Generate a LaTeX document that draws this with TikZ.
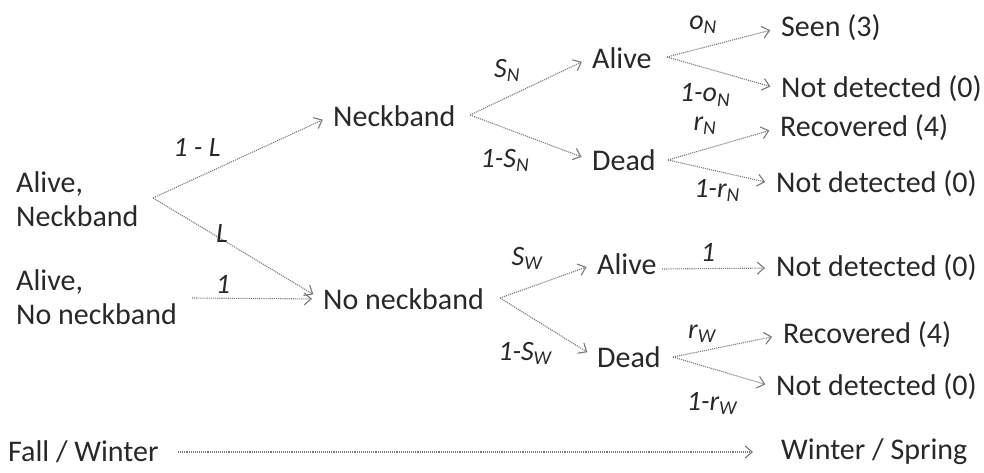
\documentclass[tikz,border=0pt]{standalone}
\usepackage{fontspec}
\setmainfont{Carlito}
\usetikzlibrary{arrows.meta, positioning}
\definecolor{TreeText}{RGB}{40, 40, 40}
\definecolor{TreeLine}{RGB}{120, 120, 120}

\begin{document}
\begin{tikzpicture}[
    x=1pt, y=-1pt,
    every node/.style={font=\fontsize{30}{34}\selectfont, text=TreeText, inner sep=2pt},
    state/.style={anchor=west, align=left},
    prob/.style={font=\fontsize{28}{30}\selectfont\itshape},
    arrow/.style={-{Straight Barb[length=7pt, width=12pt]}, draw=TreeLine, densely dotted, line width=1.1pt, shorten >=9pt}
  ]
    \useasboundingbox (0,0) rectangle (984,473);

    % Start states
    \node[state] (st1) at (14,199) {Alive,\\Neckband};
    \node[state] (st2) at (14,297) {Alive,\\No neckband};

    % Neckband status
    \node[state] (neck) at (331,116) {Neckband};
    \node[state] (noneck) at (321,299) {No neckband};

    % Survival
    \node[state] (aliveN) at (590,58) {Alive};
    \node[state] (deadN) at (590,160) {Dead};
    \node[state] (aliveW) at (595,264) {Alive};
    \node[state] (deadW) at (595,357) {Dead};

    % Observation
    \node[state] (seen) at (779,28) {Seen (3)};
    \node[state] (ndN1) at (779,89) {Not detected (0)};
    \node[state] (recN) at (778,128) {Recovered (4)};
    \node[state] (ndN2) at (774,184) {Not detected (0)};
    \node[state] (ndW1) at (774,268) {Not detected (0)};
    \node[state] (recW) at (781,335) {Recovered (4)};
    \node[state] (ndW2) at (774,387) {Not detected (0)};

    % Seasons
    \node[state] (fall) at (6,452) {Fall / Winter};
    \node[state] (spring) at (779,452) {Winter / Spring};

    % Branch points
    \coordinate (b0) at (153,198);
    \coordinate (b1) at (192,298);
    \coordinate (bNeck) at (470,115);
    \coordinate (bNo) at (500,298);
    \coordinate (bAN) at (667,57);
    \coordinate (bDN) at (668,160);
    \coordinate (bAW) at (662,269);
    \coordinate (bDW) at (673,357);
    \coordinate (bFall) at (178,452);

    % Connections
    \draw[arrow] (b0) -- (neck.west);
    \draw[arrow] (b0) -- (noneck.west);
    \draw[arrow] (b1) -- (noneck.west);
    \draw[arrow] (bNeck) -- (aliveN.west);
    \draw[arrow] (bNeck) -- (deadN.west);
    \draw[arrow] (bNo) -- (aliveW.west);
    \draw[arrow] (bNo) -- (deadW.west);
    \draw[arrow] (bAN) -- (seen.west);
    \draw[arrow] (bAN) -- (ndN1.west);
    \draw[arrow] (bDN) -- (recN.west);
    \draw[arrow] (bDN) -- (ndN2.west);
    \draw[arrow] (bAW) -- (ndW1.west);
    \draw[arrow] (bDW) -- (recW.west);
    \draw[arrow] (bDW) -- (ndW2.west);
    \draw[arrow, shorten >=26pt] (bFall) -- (spring.west);

    % Probabilities
    \node[prob] (pL1) at (197,147) {1 - L};
    \node[prob] (pL) at (222,234) {L};
    \node[prob] (p1a) at (223,284) {1};
    \node[prob] (pSN) at (507,70) {S\textsubscript{N}};
    \node[prob] (pSN1) at (505,160) {1-S\textsubscript{N}};
    \node[prob] (poN) at (703,25) {o\textsubscript{N}};
    \node[prob] (poN1) at (705,95) {1-o\textsubscript{N}};
    \node[prob] (prN) at (705,126) {r\textsubscript{N}};
    \node[prob] (prN1) at (717,190) {1-r\textsubscript{N}};
    \node[prob] (pSW) at (527,258) {S\textsubscript{W}};
    \node[prob] (pSW1) at (525,353) {1-S\textsubscript{W}};
    \node[prob] (p1b) at (708,252) {1};
    \node[prob] (prW) at (702,334) {r\textsubscript{W}};
    \node[prob] (prW1) at (712,403) {1-r\textsubscript{W}};
  \end{tikzpicture}
\end{document}
